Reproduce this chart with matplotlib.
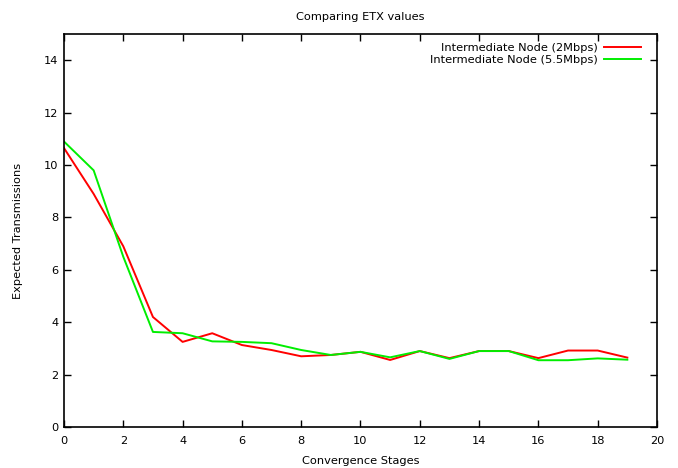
import matplotlib
matplotlib.use("Agg")
from matplotlib import pyplot as plt

# convergence stage index
stages = list(range(20))

# ETX
etx_2mbps = [10.65, 8.9, 6.9, 4.2, 3.25, 3.58, 3.13, 2.94, 2.7, 2.75,
             2.87, 2.56, 2.9, 2.63, 2.9, 2.9, 2.63, 2.92, 2.92, 2.65]
etx_55mbps = [10.9, 9.8, 6.5, 3.63, 3.58, 3.27, 3.25, 3.2, 2.94, 2.75,
              2.87, 2.66, 2.9, 2.6, 2.9, 2.9, 2.55, 2.55, 2.62, 2.57]

x_ticks = list(range(0, 21, 2))
y_ticks = list(range(0, 15, 2))


def main():
    fs = 8.2
    fig = plt.figure(figsize=(6.78, 4.68), dpi=100)
    ax = fig.add_axes([0.0944, 0.0876, 0.8746, 0.8394])

    ax.plot(stages, etx_2mbps, color="#ff0000", lw=1.4, label="Intermediate Node (2Mbps)")
    ax.plot(stages, etx_55mbps, color="#00ee00", lw=1.4, label="Intermediate Node (5.5Mbps)")

    ax.set_xlim(0, 20)
    ax.set_ylim(0, 15)
    ax.set_xticks(x_ticks)
    ax.set_yticks(y_ticks)
    ax.tick_params(direction="in", top=True, right=True, length=5, width=1, labelsize=fs, pad=4)
    ax.tick_params(axis="x", pad=6.5)
    for s in ax.spines.values():
        s.set_linewidth(1.2)

    ax.set_title("Comparing ETX values", fontsize=fs, pad=10)
    ax.set_xlabel("Convergence Stages", fontsize=fs, labelpad=7)
    ax.set_ylabel("Expected Transmissions", fontsize=fs, labelpad=15)

    leg = ax.legend(loc="upper right", bbox_to_anchor=(0.981, 0.989), frameon=False, fontsize=fs,
                    markerfirst=False, handlelength=3.3, borderaxespad=0, labelspacing=0.15,
                    handletextpad=0.55)
    for t in leg.get_texts():
        t.set_ha("right")
    leg._legend_box.align = "right"

    fig.savefig("out.png", dpi=100)


if __name__ == "__main__":
    main()
